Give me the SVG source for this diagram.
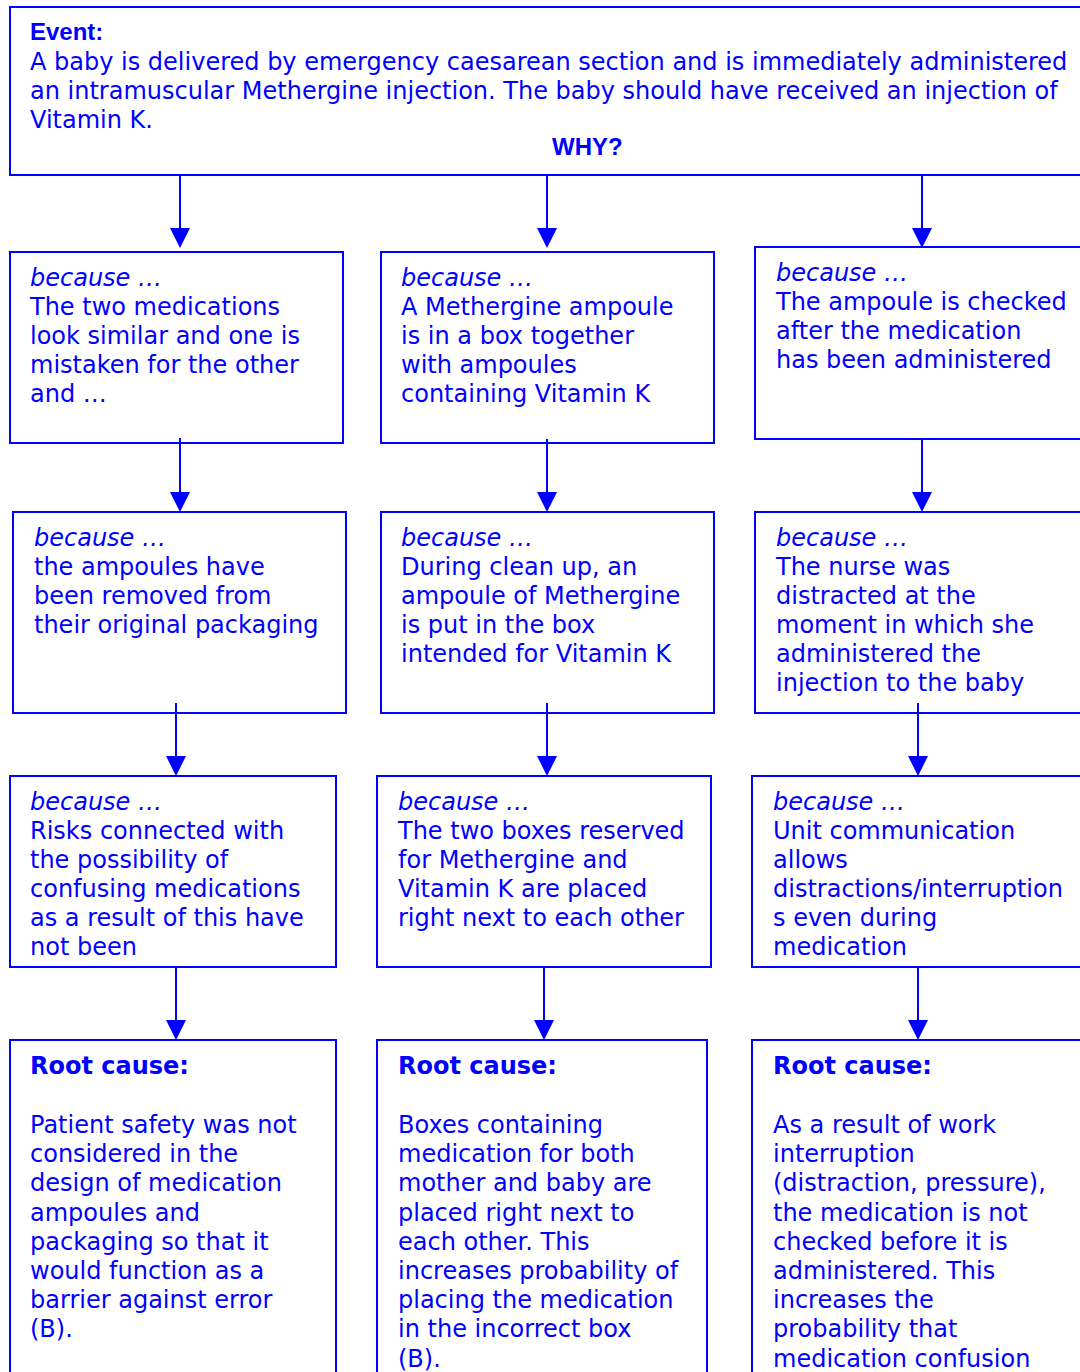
<svg xmlns="http://www.w3.org/2000/svg" width="1080" height="1372" viewBox="0 0 1080 1372">
<defs>
<style>
.box{fill:#fff;stroke:#0000ff;stroke-width:2}
.t{font-family:"DejaVu Sans",Verdana,sans-serif;font-size:24px;fill:#0000ff}
.i{font-style:italic}
.b{font-weight:bold}
.ar{font-family:"Liberation Sans",Arial,sans-serif;font-weight:bold;font-size:24px;fill:#0000ff}
.c{fill:none;stroke:#0000ff;stroke-width:2}
.h{fill:#0000ff}
</style>
</defs>
<rect width="1080" height="1372" fill="#fff"/>
<g id="event">
<rect class="box" x="10" y="7" width="1080" height="168"/>
<text class="ar" x="30" y="40">Event:</text>
<text class="t" x="30" y="70">A baby is delivered by emergency caesarean section and is immediately administered</text>
<text class="t" x="30" y="99">an intramuscular Methergine injection. The baby should have received an injection of</text>
<text class="t" x="30" y="128">Vitamin K.</text>
<text class="ar" x="552" y="155">WHY?</text>
</g>
<g id="a1">
<rect class="box" x="10" y="252" width="333" height="191"/>
<text class="t" x="30" y="286"><tspan class="i">because …</tspan><tspan x="30" dy="29">The two medications</tspan><tspan x="30" dy="29">look similar and one is</tspan><tspan x="30" dy="29">mistaken for the other</tspan><tspan x="30" dy="29">and …</tspan></text>
</g>
<g id="b1">
<rect class="box" x="381" y="252" width="333" height="191"/>
<text class="t" x="401" y="286"><tspan class="i">because …</tspan><tspan x="401" dy="29">A Methergine ampoule</tspan><tspan x="401" dy="29">is in a box together</tspan><tspan x="401" dy="29">with ampoules</tspan><tspan x="401" dy="29">containing Vitamin K</tspan></text>
</g>
<g id="c1">
<rect class="box" x="755" y="247" width="335" height="192"/>
<text class="t" x="776" y="281"><tspan class="i">because …</tspan><tspan x="776" dy="29">The ampoule is checked</tspan><tspan x="776" dy="29">after the medication</tspan><tspan x="776" dy="29">has been administered</tspan></text>
</g>
<g id="a2">
<rect class="box" x="13" y="512" width="333" height="201"/>
<text class="t" x="34" y="546"><tspan class="i">because …</tspan><tspan x="34" dy="29">the ampoules have</tspan><tspan x="34" dy="29">been removed from</tspan><tspan x="34" dy="29">their original packaging</tspan></text>
</g>
<g id="b2">
<rect class="box" x="381" y="512" width="333" height="201"/>
<text class="t" x="401" y="546"><tspan class="i">because …</tspan><tspan x="401" dy="29">During clean up, an</tspan><tspan x="401" dy="29">ampoule of Methergine</tspan><tspan x="401" dy="29">is put in the box</tspan><tspan x="401" dy="29">intended for Vitamin K</tspan></text>
</g>
<g id="c2">
<rect class="box" x="755" y="512" width="335" height="201"/>
<text class="t" x="776" y="546"><tspan class="i">because …</tspan><tspan x="776" dy="29">The nurse was</tspan><tspan x="776" dy="29">distracted at the</tspan><tspan x="776" dy="29">moment in which she</tspan><tspan x="776" dy="29">administered the</tspan><tspan x="776" dy="29">injection to the baby</tspan></text>
</g>
<g id="a3">
<rect class="box" x="10" y="776" width="326" height="191"/>
<text class="t" x="30" y="810"><tspan class="i">because …</tspan><tspan x="30" dy="29">Risks connected with</tspan><tspan x="30" dy="29">the possibility of</tspan><tspan x="30" dy="29">confusing medications</tspan><tspan x="30" dy="29">as a result of this have</tspan><tspan x="30" dy="29">not been</tspan></text>
</g>
<g id="b3">
<rect class="box" x="377" y="776" width="334" height="191"/>
<text class="t" x="398" y="810"><tspan class="i">because …</tspan><tspan x="398" dy="29">The two boxes reserved</tspan><tspan x="398" dy="29">for Methergine and</tspan><tspan x="398" dy="29">Vitamin K are placed</tspan><tspan x="398" dy="29">right next to each other</tspan></text>
</g>
<g id="c3">
<rect class="box" x="752" y="776" width="338" height="191"/>
<text class="t" x="773" y="810"><tspan class="i">because …</tspan><tspan x="773" dy="29">Unit communication</tspan><tspan x="773" dy="29">allows</tspan><tspan x="773" dy="29">distractions/interruption</tspan><tspan x="773" dy="29">s even during</tspan><tspan x="773" dy="29">medication</tspan></text>
</g>
<g id="a4">
<rect class="box" x="10" y="1040" width="326" height="340"/>
<text class="t" x="30" y="1074"><tspan class="b">Root cause:</tspan><tspan x="30" y="1133">Patient safety was not</tspan><tspan x="30" dy="29.2">considered in the</tspan><tspan x="30" dy="29.2">design of medication</tspan><tspan x="30" dy="29.2">ampoules and</tspan><tspan x="30" dy="29.2">packaging so that it</tspan><tspan x="30" dy="29.2">would function as a</tspan><tspan x="30" dy="29.2">barrier against error</tspan><tspan x="30" dy="29.2">(B).</tspan></text>
</g>
<g id="b4">
<rect class="box" x="377" y="1040" width="330" height="340"/>
<text class="t" x="398" y="1074"><tspan class="b">Root cause:</tspan><tspan x="398" y="1133">Boxes containing</tspan><tspan x="398" dy="29.2">medication for both</tspan><tspan x="398" dy="29.2">mother and baby are</tspan><tspan x="398" dy="29.2">placed right next to</tspan><tspan x="398" dy="29.2">each other. This</tspan><tspan x="398" dy="29.2">increases probability of</tspan><tspan x="398" dy="29.2">placing the medication</tspan><tspan x="398" dy="29.2">in the incorrect box</tspan><tspan x="398" dy="29.2">(B).</tspan></text>
</g>
<g id="c4">
<rect class="box" x="752" y="1040" width="338" height="340"/>
<text class="t" x="773" y="1074"><tspan class="b">Root cause:</tspan><tspan x="773" y="1133">As a result of work</tspan><tspan x="773" dy="29.2">interruption</tspan><tspan x="773" dy="29.2">(distraction, pressure),</tspan><tspan x="773" dy="29.2">the medication is not</tspan><tspan x="773" dy="29.2">checked before it is</tspan><tspan x="773" dy="29.2">administered. This</tspan><tspan x="773" dy="29.2">increases the</tspan><tspan x="773" dy="29.2">probability that</tspan><tspan x="773" dy="29.2">medication confusion</tspan></text>
</g>
<g id="connectors">
<path class="c" d="M180,175V230 M547,175V230 M922,175V230 M180,438V494 M547,439V494 M922,439V494 M176,703V758 M547,703V758 M918,703V758 M176,967V1022 M544,967V1022 M918,967V1022"/>
<path class="h" d="M170,228h20l-10,20z M537,228h20l-10,20z M912,228h20l-10,20z M170,492h20l-10,20z M537,492h20l-10,20z M912,492h20l-10,20z M166,756h20l-10,20z M537,756h20l-10,20z M908,756h20l-10,20z M166,1020h20l-10,20z M534,1020h20l-10,20z M908,1020h20l-10,20z"/>
</g>
</svg>
